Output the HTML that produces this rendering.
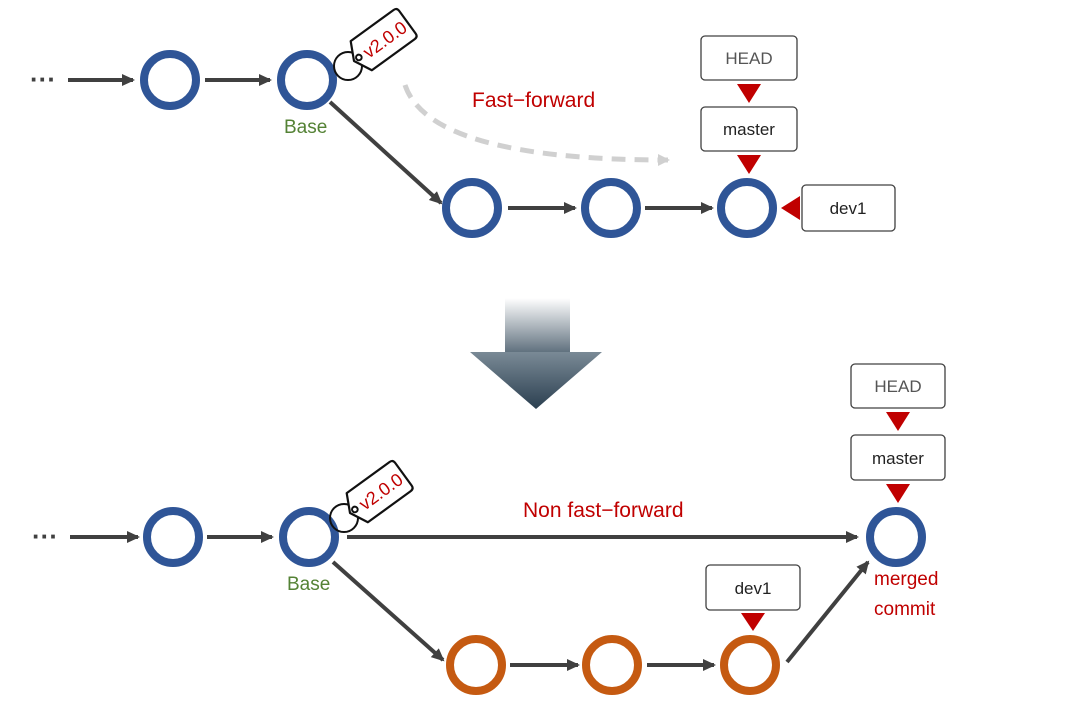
<!DOCTYPE html><html><head><style>body{margin:0;background:#fff}svg{display:block}text{font-family:"Liberation Sans",sans-serif}</style></head><body>
<svg width="1080" height="706" viewBox="0 0 1080 706" xmlns="http://www.w3.org/2000/svg">
<defs>
<marker id="a" markerWidth="14" markerHeight="14" refX="11" refY="7" orient="auto" markerUnits="userSpaceOnUse"><path d="M0,1L13,7L0,13Z" fill="#404040"/></marker>
<marker id="g" markerWidth="14" markerHeight="12" refX="10" refY="6" orient="auto" markerUnits="userSpaceOnUse"><path d="M0,0L12,6L0,12Z" fill="#d0d0d0"/></marker>
<linearGradient id="bg" x1="0" y1="0" x2="0" y2="1"><stop offset="0" stop-color="#fff"/><stop offset="1" stop-color="#5b6c7a"/></linearGradient>
<linearGradient id="tg" x1="0" y1="0" x2="0" y2="1"><stop offset="0" stop-color="#7a8a96"/><stop offset="1" stop-color="#2b3f50"/></linearGradient>
</defs>
<g stroke="#404040" stroke-width="4" fill="none" marker-end="url(#a)">
<line x1="68" y1="80" x2="133" y2="80"/><line x1="205" y1="80" x2="270" y2="80"/>
<line x1="330" y1="102" x2="441" y2="203"/><line x1="508" y1="208" x2="575" y2="208"/><line x1="645" y1="208" x2="712" y2="208"/>
<line x1="70" y1="537" x2="138" y2="537"/><line x1="207" y1="537" x2="272" y2="537"/>
<line x1="347" y1="537" x2="857" y2="537"/><line x1="333" y1="562" x2="443" y2="660"/>
<line x1="510" y1="665" x2="578" y2="665"/><line x1="647" y1="665" x2="714" y2="665"/><line x1="787" y1="662" x2="868" y2="562"/>
</g>
<text x="30" y="88" font-size="26" fill="#404040" font-weight="bold">···</text>
<text x="32" y="545" font-size="26" fill="#404040" font-weight="bold">···</text>
<path d="M405,85 Q430,160 668,160" stroke="#d0d0d0" stroke-width="5" stroke-dasharray="14,9" fill="none" marker-end="url(#g)"/>
<g fill="none" stroke-width="8">
<g stroke="#2f5597"><circle cx="170" cy="80" r="26"/><circle cx="307" cy="80" r="26"/><circle cx="472" cy="208" r="26"/><circle cx="611" cy="208" r="26"/><circle cx="747" cy="208" r="26"/>
<circle cx="173" cy="537" r="26"/><circle cx="309" cy="537" r="26"/><circle cx="896" cy="537" r="26"/></g>
<g stroke="#c55a11"><circle cx="476" cy="665" r="26"/><circle cx="612" cy="665" r="26"/><circle cx="750" cy="665" r="26"/></g>
</g>
<g font-size="19" fill="#548235"><text x="284" y="133">Base</text><text x="287" y="590">Base</text></g>
<g font-size="21" fill="#c00000"><text x="472" y="107">Fast−forward</text><text x="523" y="517">Non fast−forward</text></g>
<g font-size="19" fill="#c00000"><text x="874" y="585">merged</text><text x="874" y="615">commit</text></g>
<g>
<circle cx="348" cy="66" r="14" fill="none" stroke="#111" stroke-width="2"/>
<g transform="translate(354,61) rotate(-36)"><path d="M0,0 L9,-18 L62,-18 Q66,-18 66,-14 L66,14 Q66,18 62,18 L9,18 Z" fill="#fff" stroke="#111" stroke-width="2.2" stroke-linejoin="round"/><circle cx="6" cy="0" r="2.8" fill="#fff" stroke="#111" stroke-width="2"/><text x="13" y="7" font-size="18" fill="#c00000">v2.0.0</text></g>
</g>
<g transform="translate(-4,452)">
<circle cx="348" cy="66" r="14" fill="none" stroke="#111" stroke-width="2"/>
<g transform="translate(354,61) rotate(-36)"><path d="M0,0 L9,-18 L62,-18 Q66,-18 66,-14 L66,14 Q66,18 62,18 L9,18 Z" fill="#fff" stroke="#111" stroke-width="2.2" stroke-linejoin="round"/><circle cx="6" cy="0" r="2.8" fill="#fff" stroke="#111" stroke-width="2"/><text x="13" y="7" font-size="18" fill="#c00000">v2.0.0</text></g>
</g>
<g fill="#fff" stroke="#404040" stroke-width="1.3">
<rect x="701" y="36" width="96" height="44" rx="4"/><rect x="701" y="107" width="96" height="44" rx="4"/><rect x="802" y="185" width="93" height="46" rx="4"/>
<rect x="851" y="364" width="94" height="44" rx="4"/><rect x="851" y="435" width="94" height="45" rx="4"/><rect x="706" y="565" width="94" height="45" rx="4"/>
</g>
<g font-size="17" text-anchor="middle" fill="#222">
<text x="749" y="64" fill="#555">HEAD</text><text x="749" y="135">master</text><text x="848" y="214">dev1</text>
<text x="898" y="392" fill="#555">HEAD</text><text x="898" y="464">master</text><text x="753" y="594">dev1</text>
</g>
<g fill="#c00000">
<path d="M737,84L761,84L749,103Z"/><path d="M737,155L761,155L749,174Z"/><path d="M800,196L800,220L781,208Z"/>
<path d="M886,412L910,412L898,431Z"/><path d="M886,484L910,484L898,503Z"/><path d="M741,613L765,613L753,631Z"/>
</g>
<rect x="505" y="298" width="65" height="56" fill="url(#bg)"/>
<path d="M470,352L602,352L536,409Z" fill="url(#tg)"/>
</svg></body></html>
